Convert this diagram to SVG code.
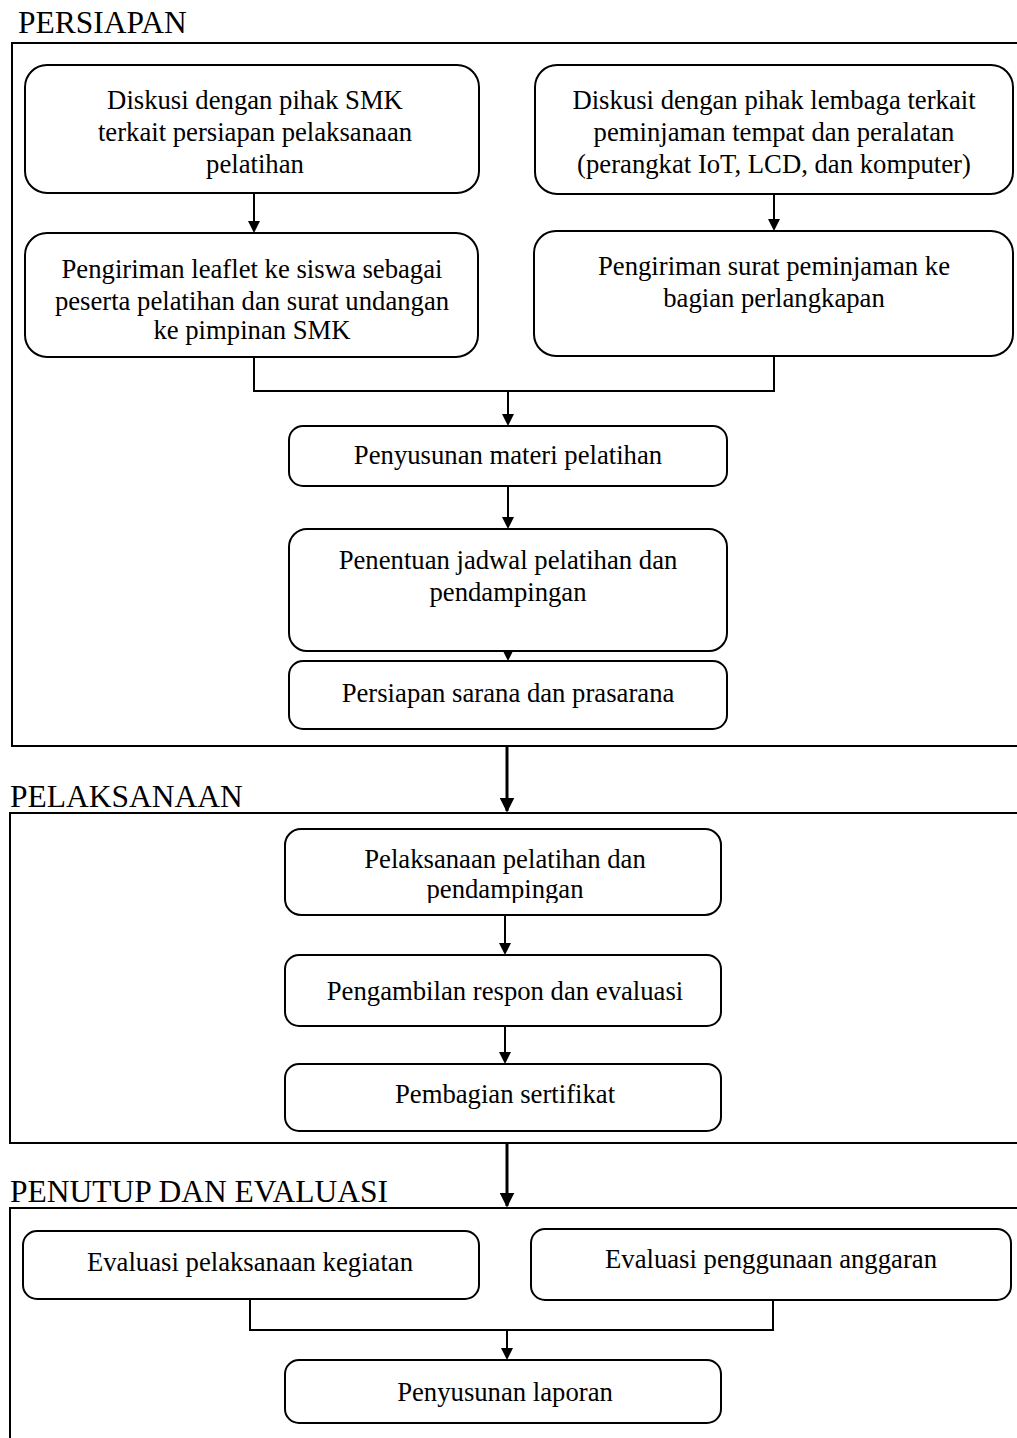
<svg xmlns="http://www.w3.org/2000/svg" width="1017" height="1438" viewBox="0 0 1017 1438">
<style>
.sec{fill:none;stroke:#000;stroke-width:2}
.box{fill:#fff;stroke:#000;stroke-width:2}
.t{font-family:"Liberation Serif","Times New Roman",serif;font-size:26.7px;fill:#000;text-anchor:middle}
.h{font-family:"Liberation Serif","Times New Roman",serif;font-size:31.5px;fill:#000}
.ln{fill:none;stroke:#000;stroke-width:2}
.bl{fill:none;stroke:#000;stroke-width:3}
</style>
<defs>
<marker id="ah" markerWidth="6" markerHeight="6" refX="5" refY="3" orient="auto" markerUnits="strokeWidth">
<path d="M0,0 L6,3 L0,6 Z" fill="#000"/>
</marker>
<marker id="ah2" markerWidth="5" markerHeight="5" refX="4.5" refY="2.5" orient="auto" markerUnits="strokeWidth">
<path d="M0,0 L5,2.5 L0,5 Z" fill="#000"/>
</marker>
<clipPath id="c3"><rect x="25" y="233" width="453" height="112"/></clipPath>
<clipPath id="c8"><rect x="285" y="829" width="436" height="74"/></clipPath>
</defs>
<g id="sections">
<text class="h" x="18" y="33">PERSIAPAN</text>
<rect class="sec" x="12" y="43" width="1020" height="703"/>
<text class="h" x="10" y="807">PELAKSANAAN</text>
<rect class="sec" x="10" y="813" width="1022" height="330"/>
<text class="h" x="10" y="1202">PENUTUP DAN EVALUASI</text>
<rect class="sec" x="10" y="1208" width="1022" height="250"/>
</g>
<g id="connectors">
<line class="ln" x1="254" y1="193" x2="254" y2="231" marker-end="url(#ah)"/>
<line class="ln" x1="774" y1="194" x2="774" y2="229" marker-end="url(#ah)"/>
<polyline class="ln" points="254,357 254,391 774,391 774,356"/>
<line class="ln" x1="508" y1="391" x2="508" y2="424" marker-end="url(#ah)"/>
<line class="ln" x1="508" y1="486" x2="508" y2="527" marker-end="url(#ah)"/>
<line class="ln" x1="508" y1="651" x2="508" y2="659" marker-end="url(#ah)"/>
<line class="bl" x1="507" y1="746" x2="507" y2="811" marker-end="url(#ah2)"/>
<line class="ln" x1="505" y1="915" x2="505" y2="953" marker-end="url(#ah)"/>
<line class="ln" x1="505" y1="1026" x2="505" y2="1062" marker-end="url(#ah)"/>
<line class="bl" x1="507" y1="1143" x2="507" y2="1206" marker-end="url(#ah2)"/>
<polyline class="ln" points="250,1299 250,1330 773,1330 773,1296"/>
<line class="ln" x1="507" y1="1330" x2="507" y2="1358" marker-end="url(#ah)"/>
</g>
<g id="n1">
<rect class="box" x="25" y="65" width="454" height="128" rx="22"/>
<text class="t" x="255" y="109">Diskusi dengan pihak SMK</text>
<text class="t" x="255" y="141">terkait persiapan pelaksanaan</text>
<text class="t" x="255" y="173">pelatihan</text>
</g>
<g id="n2">
<rect class="box" x="535" y="65" width="478" height="129" rx="22"/>
<text class="t" x="774" y="109">Diskusi dengan pihak lembaga terkait</text>
<text class="t" x="774" y="141">peminjaman tempat dan peralatan</text>
<text class="t" x="774" y="173">(perangkat IoT, LCD, dan komputer)</text>
</g>
<g id="n3">
<rect class="box" x="25" y="233" width="453" height="124" rx="22"/>
<g clip-path="url(#c3)">
<text class="t" x="252" y="278">Pengiriman leaflet ke siswa sebagai</text>
<text class="t" x="252" y="310">peserta pelatihan dan surat undangan</text>
<text class="t" x="252" y="339">ke pimpinan SMK</text>
</g>
</g>
<g id="n4">
<rect class="box" x="534" y="231" width="479" height="125" rx="22"/>
<text class="t" x="774" y="275">Pengiriman surat peminjaman ke</text>
<text class="t" x="774" y="307">bagian perlangkapan</text>
</g>
<g id="n5">
<rect class="box" x="289" y="426" width="438" height="60" rx="14"/>
<text class="t" x="508" y="464">Penyusunan materi pelatihan</text>
</g>
<g id="n6">
<rect class="box" x="289" y="529" width="438" height="122" rx="18"/>
<text class="t" x="508" y="569">Penentuan jadwal pelatihan dan</text>
<text class="t" x="508" y="601">pendampingan</text>
</g>
<g id="n7">
<rect class="box" x="289" y="661" width="438" height="68" rx="14"/>
<text class="t" x="508" y="702">Persiapan sarana dan prasarana</text>
</g>
<g id="n8">
<rect class="box" x="285" y="829" width="436" height="86" rx="16"/>
<g clip-path="url(#c8)">
<text class="t" x="505" y="868">Pelaksanaan pelatihan dan</text>
<text class="t" x="505" y="898">pendampingan</text>
</g>
</g>
<g id="n9">
<rect class="box" x="285" y="955" width="436" height="71" rx="14"/>
<text class="t" x="505" y="1000">Pengambilan respon dan evaluasi</text>
</g>
<g id="n10">
<rect class="box" x="285" y="1064" width="436" height="67" rx="14"/>
<text class="t" x="505" y="1103">Pembagian sertifikat</text>
</g>
<g id="n11">
<rect class="box" x="23" y="1231" width="456" height="68" rx="14"/>
<text class="t" x="250" y="1271">Evaluasi pelaksanaan kegiatan</text>
</g>
<g id="n12">
<rect class="box" x="531" y="1229" width="480" height="71" rx="14"/>
<text class="t" x="771" y="1268">Evaluasi penggunaan anggaran</text>
</g>
<g id="n13">
<rect class="box" x="285" y="1360" width="436" height="63" rx="14"/>
<text class="t" x="505" y="1401">Penyusunan laporan</text>
</g>
</svg>
